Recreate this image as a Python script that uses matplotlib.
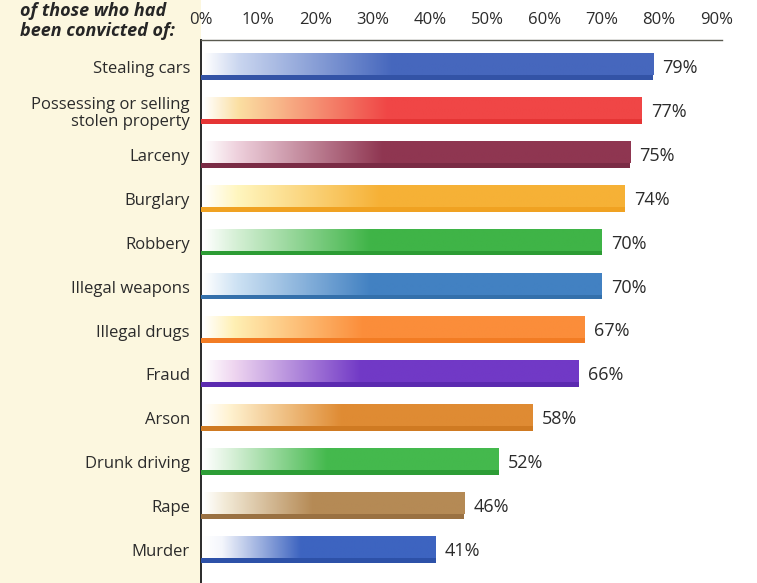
import numpy as np
import matplotlib.pyplot as plt
from matplotlib.colors import LinearSegmentedColormap
from matplotlib.patches import Rectangle

plt.rcParams['font.family'] = ['Open Sans', 'DejaVu Sans']

# данные
crimes = ['Stealing cars', 'Possessing or selling\nstolen property', 'Larceny', 'Burglary',
          'Robbery', 'Illegal weapons', 'Illegal drugs', 'Fraud', 'Arson',
          'Drunk driving', 'Rape', 'Murder']
values = [79, 77, 75, 74, 70, 70, 67, 66, 58, 52, 46, 41]
ticks = [0, 10, 20, 30, 40, 50, 60, 70, 80, 90]

# цвета: основной, нижняя полоска, оттенок в начале градиента
full = ['#4667bd', '#f04646', '#8f3651', '#f6b136', '#3fb447', '#4281c2',
        '#fb8d3a', '#7139c6', '#df8b33', '#44b94d', '#b58a55', '#3d64c0']
under = ['#3353a6', '#e53535', '#7a2b45', '#f0a222', '#2c9c34', '#3470ab',
         '#f27c24', '#5b2ab0', '#cf7a22', '#2d9d36', '#9a7142', '#2d51a8']
tint = ['#c9d5ef', '#fbdfa2', '#eed0dc', '#fff6bf', '#d6f0d6', '#cfe3f4',
        '#fff0b4', '#efd6f0', '#fff2d0', '#dff3df', '#f3ebd8', '#f4f6fc']

fig = plt.figure(figsize=(7.57, 5.83), dpi=100)
# кремовая панель под подписями
fig.patches.append(Rectangle((0, 0), 201 / 757, 1, transform=fig.transFigure,
                             facecolor='#fcf7df', edgecolor='none', zorder=-5))
ax = fig.add_axes([201 / 757, 0, 521 / 757, 1 - 40 / 583])
ax.set_facecolor('none')
ax.set_zorder(2)

grad = np.linspace(0, 1, 256).reshape(1, -1)
for i, v in enumerate(values):
    cmap = LinearSegmentedColormap.from_list(
        'g%d' % i, [(0, 'white'), (0.08, tint[i]), (0.42, full[i]), (1, full[i])])
    ax.imshow(grad, cmap=cmap, aspect='auto', extent=(0.4, v, i + 0.25, i - 0.25),
              interpolation='bilinear', zorder=2)
    ax.barh(i + 0.305, v, height=0.11, left=0, color=under[i], zorder=3)
    ax.text(v + 1.6, i + 0.09, '%d%%' % v, va='center', ha='left',
            fontsize=13, color='#2b2b2b')

ax.set_xlim(0, 91)
ax.set_ylim(11.82, -0.547)
ax.xaxis.tick_top()
ax.set_xticks(ticks)
ax.set_xticklabels(['%d%%' % t for t in ticks], fontsize=12, color='#2b2b2b')
ax.tick_params(axis='x', length=0, pad=9)
ax.set_yticks(np.arange(len(crimes)) + 0.07)
ax.set_yticklabels(crimes, fontsize=12, color='#2b2b2b', linespacing=1.1)
ax.tick_params(axis='y', length=0, pad=8)
for s in ['right', 'bottom']:
    ax.spines[s].set_visible(False)
ax.spines['left'].set_color('#2a2a2a')
ax.spines['left'].set_linewidth(1.4)
ax.spines['top'].set_color('#5a5a50')
ax.spines['top'].set_linewidth(1.0)

fig.text(20 / 757, 1 - 2 / 583, 'of those who had\nbeen convicted of:', ha='left', va='top',
         fontsize=13, fontweight='bold', fontstyle='italic', color='#262626',
         linespacing=1.15)

fig.savefig('out.png', dpi=100)
